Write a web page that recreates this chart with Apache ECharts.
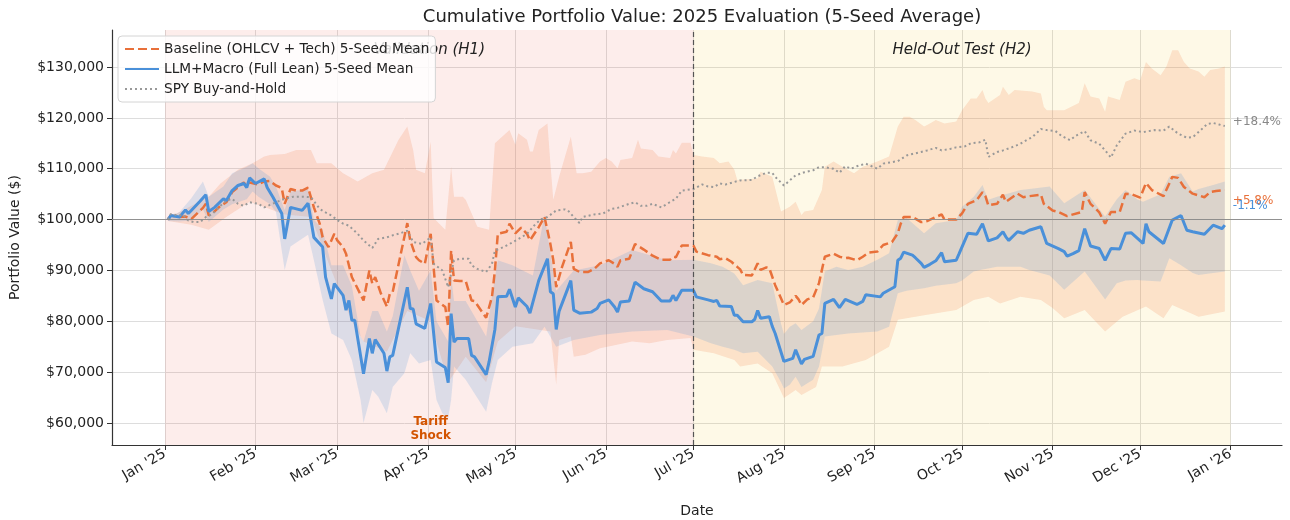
<!DOCTYPE html>
<html>
<head>
<meta charset="utf-8">
<script src="https://cdn.jsdelivr.net/npm/echarts@6/dist/echarts.min.js"></script>
<style>
  html, body { margin: 0; background: #fff; }
  #chart { width: 1290px; height: 520px; }
</style>
</head>
<body>
<div id="chart"></div>
<script>
// values in $ thousands

// Baseline (OHLCV + Tech) 5-seed mean
const baseDates = ['2025-01-02','2025-01-03','2025-01-06','2025-01-08','2025-01-10','2025-01-14','2025-01-15','2025-01-16','2025-01-17','2025-01-20','2025-01-22','2025-01-24','2025-01-28','2025-01-29','2025-01-30','2025-02-02','2025-02-04','2025-02-06','2025-02-08','2025-02-10','2025-02-11','2025-02-13','2025-02-15','2025-02-17','2025-02-19','2025-02-21','2025-02-23','2025-02-24','2025-02-26','2025-02-28','2025-03-01','2025-03-03','2025-03-04','2025-03-06','2025-03-10','2025-03-12','2025-03-13','2025-03-14','2025-03-16','2025-03-18','2025-03-19','2025-03-20','2025-03-25','2025-03-26','2025-03-28','2025-03-29','2025-03-31','2025-04-02','2025-04-04','2025-04-07','2025-04-08','2025-04-09','2025-04-10','2025-04-12','2025-04-14','2025-04-16','2025-04-17','2025-04-21','2025-04-23','2025-04-24','2025-04-25','2025-04-28','2025-04-29','2025-05-01','2025-05-03','2025-05-05','2025-05-06','2025-05-09','2025-05-11','2025-05-13','2025-05-14','2025-05-15','2025-05-17','2025-05-20','2025-05-21','2025-05-23','2025-05-26','2025-05-28','2025-05-30','2025-06-02','2025-06-04','2025-06-05','2025-06-06','2025-06-09','2025-06-11','2025-06-14','2025-06-17','2025-06-20','2025-06-23','2025-06-24','2025-06-25','2025-06-27','2025-07-01',
  '2025-07-02','2025-07-06','2025-07-09','2025-07-10','2025-07-12','2025-07-14','2025-07-16','2025-07-17','2025-07-18','2025-07-21','2025-07-23','2025-07-24','2025-07-26','2025-07-27','2025-07-29','2025-07-30','2025-08-01','2025-08-03','2025-08-05','2025-08-06','2025-08-07','2025-08-09','2025-08-11','2025-08-13','2025-08-15','2025-08-18','2025-08-20','2025-08-22','2025-08-23','2025-08-26','2025-08-28','2025-08-30','2025-09-02','2025-09-04','2025-09-07','2025-09-09','2025-09-10','2025-09-11','2025-09-14','2025-09-15','2025-09-17','2025-09-19','2025-09-22','2025-09-24','2025-09-25','2025-09-29','2025-10-01','2025-10-03','2025-10-06','2025-10-08','2025-10-09','2025-10-10','2025-10-13','2025-10-15','2025-10-16','2025-10-20','2025-10-22','2025-10-24','2025-10-28','2025-10-29','2025-11-01','2025-11-03','2025-11-06','2025-11-11','2025-11-12','2025-11-14','2025-11-16','2025-11-17','2025-11-19','2025-11-21','2025-11-24','2025-11-26','2025-11-28','2025-12-01','2025-12-03','2025-12-05','2025-12-09','2025-12-12','2025-12-14','2025-12-16','2025-12-19','2025-12-23','2025-12-25','2025-12-27','2025-12-30'];
const baseMean = [100.0,100.8,100.5,100.6,100.1,102.3,103.1,100.8,101.1,102.7,103.4,105.4,107.3,106.5,107.3,106.9,107.5,107.6,106.7,106.2,103.1,106.0,105.7,105.7,106.3,102.4,99.2,96.5,94.6,97.2,95.9,94.6,93.3,88.7,84.1,90.0,87.4,88.7,85.4,82.9,85.4,85.8,99.3,95.9,92.6,92.0,91.3,97.2,84.1,82.8,78.9,93.9,88.0,87.9,87.9,84.1,84.0,80.7,84.8,90.0,97.2,97.6,99.2,97.3,98.4,97.2,95.9,98.5,100.5,95.2,92.0,86.7,90.7,95.6,90.3,89.7,89.7,90.3,91.4,92.0,91.3,90.7,92.0,92.3,95.2,94.1,92.9,92.1,92.1,92.7,92.6,94.9,94.9,
  93.7,93.0,92.7,92.2,92.4,91.7,90.7,90.2,89.1,89.0,91.4,90.1,90.6,90.4,87.1,85.8,83.2,83.7,85.0,84.3,83.2,84.3,84.7,87.5,92.7,93.3,92.7,92.4,92.5,92.0,92.7,93.5,93.7,95.0,95.6,97.3,99.2,100.5,100.5,100.2,99.5,99.7,100.5,101.0,100.0,100.0,101.2,103.1,103.8,105.4,104.6,102.8,103.1,104.9,103.5,105.1,104.4,104.6,104.9,103.1,101.8,101.5,100.7,101.5,105.4,103.1,102.0,101.4,99.2,101.5,101.5,105.1,105.0,104.3,107.2,105.8,104.6,108.4,108.2,106.4,105.1,104.4,105.4,105.6,105.8];

// LLM+Macro (Full Lean) 5-seed mean
const llmDates = ['2025-01-02','2025-01-03','2025-01-06','2025-01-08','2025-01-09','2025-01-10','2025-01-13','2025-01-15','2025-01-16','2025-01-18','2025-01-21','2025-01-22','2025-01-24','2025-01-26','2025-01-28','2025-01-29','2025-01-30','2025-02-01','2025-02-04','2025-02-05','2025-02-07','2025-02-10','2025-02-11','2025-02-13','2025-02-17','2025-02-19','2025-02-21','2025-02-24','2025-02-25','2025-02-27','2025-02-28','2025-03-03','2025-03-04','2025-03-05','2025-03-06','2025-03-07','2025-03-10','2025-03-12','2025-03-13','2025-03-14','2025-03-17','2025-03-18','2025-03-19','2025-03-20','2025-03-25','2025-03-26','2025-03-27','2025-03-28','2025-03-31','2025-04-02','2025-04-04','2025-04-07','2025-04-08','2025-04-09','2025-04-10','2025-04-11','2025-04-15','2025-04-16','2025-04-17','2025-04-21','2025-04-22','2025-04-24','2025-04-25','2025-04-28','2025-04-29','2025-05-01','2025-05-02','2025-05-05','2025-05-06','2025-05-09','2025-05-12','2025-05-13','2025-05-14','2025-05-15','2025-05-16','2025-05-20','2025-05-21','2025-05-23','2025-05-27','2025-05-29','2025-05-30','2025-06-02','2025-06-04','2025-06-05','2025-06-06','2025-06-09','2025-06-11','2025-06-14','2025-06-17','2025-06-20','2025-06-23','2025-06-24','2025-06-25','2025-06-27','2025-07-01',
  '2025-07-02','2025-07-04','2025-07-06','2025-07-08','2025-07-09','2025-07-10','2025-07-14','2025-07-15','2025-07-16','2025-07-18','2025-07-21','2025-07-22','2025-07-23','2025-07-24','2025-07-27','2025-07-28','2025-07-29','2025-08-01','2025-08-04','2025-08-05','2025-08-07','2025-08-08','2025-08-11','2025-08-13','2025-08-14','2025-08-15','2025-08-18','2025-08-20','2025-08-22','2025-08-26','2025-08-28','2025-08-29','2025-09-03','2025-09-04','2025-09-08','2025-09-09','2025-09-10','2025-09-11','2025-09-14','2025-09-15','2025-09-17','2025-09-18','2025-09-20','2025-09-22','2025-09-24','2025-09-25','2025-09-29','2025-09-30','2025-10-03','2025-10-06','2025-10-08','2025-10-10','2025-10-13','2025-10-15','2025-10-16','2025-10-17','2025-10-20','2025-10-22','2025-10-24','2025-10-28','2025-10-30','2025-11-03','2025-11-05','2025-11-06','2025-11-08','2025-11-10','2025-11-12','2025-11-14','2025-11-17','2025-11-19','2025-11-21','2025-11-24','2025-11-26','2025-11-28','2025-12-02','2025-12-03','2025-12-04','2025-12-09','2025-12-12','2025-12-15','2025-12-17','2025-12-19','2025-12-23','2025-12-26','2025-12-29','2025-12-30'];
const llmMean = [100.0,100.8,100.5,101.9,101.2,101.8,103.6,104.9,101.6,102.4,104.1,103.7,105.7,106.7,107.1,106.3,108.2,107.1,108.0,106.3,104.4,101.2,96.2,102.4,101.8,103.2,96.5,94.6,88.7,84.4,87.4,85.1,82.2,84.1,80.2,80.2,69.7,76.6,73.7,76.4,73.7,70.2,73.0,73.3,86.7,82.5,82.4,79.5,78.6,83.5,72.0,70.9,67.9,81.5,75.9,76.6,76.6,73.3,73.0,69.5,72.0,78.4,84.8,84.9,86.3,82.8,84.6,82.9,81.6,88.0,92.3,85.8,85.4,78.4,82.0,88.0,82.2,81.6,81.8,82.5,83.5,84.2,82.8,81.8,83.8,84.0,87.7,86.4,85.8,84.0,84.0,85.1,84.1,86.1,86.1,
  84.8,84.5,84.2,83.9,84.1,83.0,82.9,81.2,81.2,79.9,79.9,80.4,82.1,80.6,80.9,79.0,77.6,72.1,72.7,74.4,71.6,72.5,73.1,77.3,77.6,83.5,84.3,82.7,84.3,83.3,83.9,85.2,84.8,85.5,86.8,92.0,92.4,93.6,93.0,92.5,91.4,90.6,91.2,91.9,93.5,91.7,92.0,93.3,97.3,97.1,99.2,95.8,96.4,97.6,96.6,95.9,97.6,97.3,97.9,98.6,95.3,94.3,93.7,92.8,93.3,93.9,98.2,94.8,94.3,92.0,94.3,94.2,97.3,97.4,95.3,99.2,97.6,95.3,99.9,100.8,97.9,97.6,97.1,98.9,98.2,98.9];

// SPY buy-and-hold
const spyDates = ['2025-01-02','2025-01-03','2025-01-06','2025-01-07','2025-01-09','2025-01-11','2025-01-13','2025-01-15','2025-01-17','2025-01-20','2025-01-22','2025-01-24','2025-01-26','2025-01-28','2025-01-30','2025-02-02','2025-02-04','2025-02-06','2025-02-08','2025-02-11','2025-02-14','2025-02-17','2025-02-20','2025-02-23','2025-02-25','2025-02-27','2025-03-02','2025-03-03','2025-03-05','2025-03-08','2025-03-10','2025-03-13','2025-03-15','2025-03-18','2025-03-20','2025-03-22','2025-03-25','2025-03-27','2025-03-30','2025-04-02','2025-04-03','2025-04-06','2025-04-08','2025-04-10','2025-04-12','2025-04-15','2025-04-16','2025-04-18','2025-04-21','2025-04-23','2025-04-24','2025-04-27','2025-04-29','2025-05-03','2025-05-05','2025-05-08','2025-05-10','2025-05-12','2025-05-15','2025-05-18','2025-05-19','2025-05-21','2025-05-23','2025-05-24','2025-05-28','2025-05-31','2025-06-03','2025-06-05','2025-06-09','2025-06-11','2025-06-13','2025-06-15','2025-06-17','2025-06-20','2025-06-22','2025-06-25','2025-06-27','2025-07-01',
  '2025-07-04','2025-07-06','2025-07-08','2025-07-10','2025-07-12','2025-07-15','2025-07-17','2025-07-21','2025-07-23','2025-07-26','2025-07-28','2025-07-29','2025-08-01','2025-08-03','2025-08-05','2025-08-08','2025-08-11','2025-08-13','2025-08-15','2025-08-18','2025-08-20','2025-08-22','2025-08-24','2025-08-26','2025-08-29','2025-09-02','2025-09-04','2025-09-07','2025-09-09','2025-09-12','2025-09-14','2025-09-17','2025-09-19','2025-09-22','2025-09-24','2025-09-27','2025-09-29','2025-10-02','2025-10-04','2025-10-07','2025-10-09','2025-10-10','2025-10-13','2025-10-15','2025-10-18','2025-10-21','2025-10-23','2025-10-25','2025-10-28','2025-10-30','2025-11-02','2025-11-04','2025-11-07','2025-11-09','2025-11-12','2025-11-14','2025-11-17','2025-11-19','2025-11-21','2025-11-23','2025-11-26','2025-11-29','2025-12-02','2025-12-06','2025-12-09','2025-12-11','2025-12-14','2025-12-17','2025-12-19','2025-12-21','2025-12-24','2025-12-26','2025-12-28','2025-12-30'];
const spyVals = [100.0,101.1,100.8,101.0,99.8,99.5,99.5,100.5,101.0,102.7,103.7,104.1,103.1,102.7,103.4,103.1,102.4,102.9,103.4,104.1,104.5,104.5,104.4,102.1,101.4,100.8,99.5,99.2,98.8,97.2,95.9,94.4,96.2,96.5,96.9,97.2,97.8,95.6,95.2,96.5,91.3,90.0,86.7,92.0,92.3,92.3,91.0,90.3,89.7,91.3,93.9,94.6,95.2,96.5,97.2,99.2,100.1,100.5,101.8,102.0,101.8,100.5,99.3,100.5,101.0,101.2,102.1,102.3,103.1,103.4,102.7,102.7,103.1,102.4,103.1,104.1,105.7,106.0,
  106.9,106.5,106.4,107.1,106.9,107.4,107.7,107.8,108.5,109.2,109.2,108.4,106.7,107.7,108.7,109.3,109.7,110.3,110.3,110.0,109.2,110.5,110.0,110.5,111.0,110.0,111.0,111.3,111.5,112.6,112.9,113.3,113.6,114.1,113.6,113.9,114.2,114.4,115.0,115.2,115.7,112.3,113.3,113.6,114.2,114.9,115.6,116.2,117.8,117.6,117.4,116.5,115.6,116.5,117.4,115.6,114.9,113.6,112.2,114.6,116.9,117.5,117.2,117.6,117.5,118.3,116.9,116.1,116.2,117.2,118.8,119.0,118.7,118.4];

// seed spread, baseline (upper and lower edges)
const baseHiDates = ['2025-01-02','2025-01-16','2025-01-20','2025-01-26','2025-01-31','2025-02-04','2025-02-06','2025-02-11','2025-02-15','2025-02-20','2025-02-22','2025-02-27','2025-03-03','2025-03-08','2025-03-13','2025-03-17','2025-03-22','2025-03-25','2025-03-27','2025-03-28','2025-03-31','2025-04-02','2025-04-03','2025-04-07','2025-04-09','2025-04-10','2025-04-13','2025-04-14','2025-04-18','2025-04-22','2025-04-24','2025-04-29','2025-05-01','2025-05-02','2025-05-05','2025-05-06','2025-05-07','2025-05-09','2025-05-12','2025-05-13','2025-05-14','2025-05-16','2025-05-20','2025-05-22','2025-05-24','2025-05-27','2025-05-30','2025-06-01','2025-06-03','2025-06-05','2025-06-06','2025-06-10','2025-06-12','2025-06-13','2025-06-17','2025-06-19','2025-06-23','2025-06-24','2025-06-25','2025-06-27','2025-06-30',
  '2025-07-01','2025-07-04','2025-07-08','2025-07-10','2025-07-13','2025-07-15','2025-07-16','2025-07-23','2025-07-24','2025-07-28','2025-07-31','2025-08-03','2025-08-05','2025-08-07','2025-08-08','2025-08-11','2025-08-14','2025-08-15','2025-08-18','2025-08-21','2025-08-25','2025-08-28','2025-09-02','2025-09-06','2025-09-09','2025-09-11','2025-09-13','2025-09-15','2025-09-18','2025-09-20','2025-09-22','2025-09-25','2025-09-29','2025-10-01','2025-10-04','2025-10-06','2025-10-08','2025-10-09','2025-10-10','2025-10-14','2025-10-15','2025-10-17','2025-10-19','2025-10-25','2025-10-28','2025-10-29','2025-10-30','2025-11-05','2025-11-10','2025-11-12','2025-11-14','2025-11-17','2025-11-19','2025-11-20','2025-11-24','2025-11-26','2025-11-29','2025-12-01','2025-12-03','2025-12-05','2025-12-08','2025-12-10','2025-12-12','2025-12-14','2025-12-16','2025-12-18','2025-12-21','2025-12-23','2025-12-25','2025-12-28','2025-12-30'];
const baseHi = [100.3,104.5,107.1,109.8,111.1,112.4,112.7,112.9,113.7,113.7,111.1,111.1,109.1,107.5,109.1,109.8,115.7,118.3,113.7,109.8,109.1,115.3,100.3,98.0,110.4,104.5,104.5,103.9,98.6,98.0,115.0,117.6,114.7,117.0,115.7,113.4,113.4,117.6,118.9,111.1,103.9,108.4,116.3,109.1,109.1,109.4,111.4,112.1,111.4,110.1,111.7,112.1,115.7,114.0,113.7,112.4,112.1,113.7,113.0,115.1,115.1,
  112.7,112.4,112.1,111.1,111.4,109.8,107.8,108.1,109.4,108.4,101.6,102.5,103.5,100.9,101.6,101.9,105.8,110.4,111.4,110.4,109.1,110.4,111.4,112.4,118.3,120.2,120.2,119.6,118.3,118.9,119.6,118.9,119.3,121.5,123.8,123.8,125.5,123.8,122.9,124.5,126.1,124.5,125.5,125.2,124.8,122.2,121.5,121.5,122.9,126.8,124.2,123.8,121.2,124.2,123.5,127.1,127.8,127.4,131.0,129.7,128.4,130.1,133.3,133.3,131.0,129.7,129.1,128.1,129.4,129.7,130.1];
const baseLoDates = ['2025-01-02','2025-01-10','2025-01-16','2025-01-22','2025-01-30','2025-02-11','2025-02-20','2025-02-27','2025-03-06','2025-03-10','2025-03-18','2025-03-25','2025-04-02','2025-04-08','2025-04-14','2025-04-21','2025-04-25','2025-05-01','2025-05-13','2025-05-15','2025-05-16','2025-05-20','2025-05-21','2025-05-25','2025-05-30','2025-06-04','2025-06-10','2025-06-16','2025-06-22','2025-06-30',
  '2025-07-01','2025-07-08','2025-07-15','2025-07-17','2025-07-23','2025-07-28','2025-08-01','2025-08-05','2025-08-07','2025-08-12','2025-08-14','2025-08-21','2025-08-29','2025-09-06','2025-09-09','2025-09-18','2025-09-29','2025-10-05','2025-10-10','2025-10-14','2025-10-21','2025-10-28','2025-11-01','2025-11-05','2025-11-12','2025-11-19','2025-11-25','2025-12-03','2025-12-09','2025-12-12','2025-12-21','2025-12-30'];
const baseLo = [99.7,99.0,98.0,100.5,103.5,101.0,100.5,90.0,80.0,76.0,74.0,82.0,80.0,68.0,73.0,68.0,76.0,79.0,78.0,67.5,76.3,77.0,73.0,73.4,74.7,75.3,76.0,75.7,76.3,76.7,
  74.4,73.7,72.4,71.1,71.7,69.8,64.9,66.5,65.5,67.1,71.1,71.1,72.4,75.0,80.3,81.2,82.2,84.2,84.8,83.5,84.8,84.2,82.6,80.6,82.2,78.0,80.9,82.9,80.6,83.2,80.9,81.9];

// seed spread, LLM+Macro
const llmBandDates = ['2025-01-02','2025-01-06','2025-01-10','2025-01-14','2025-01-16','2025-01-21','2025-01-24','2025-01-29','2025-01-31','2025-02-02','2025-02-06','2025-02-08','2025-02-11','2025-02-13','2025-02-19','2025-02-21','2025-02-24','2025-02-27','2025-03-03','2025-03-06','2025-03-09','2025-03-10','2025-03-13','2025-03-15','2025-03-18','2025-03-20','2025-03-24','2025-03-26','2025-03-29','2025-04-02','2025-04-04','2025-04-06','2025-04-08','2025-04-09','2025-04-10','2025-04-14','2025-04-21','2025-04-23','2025-04-25','2025-04-30','2025-05-07','2025-05-11','2025-05-15','2025-05-21','2025-05-30','2025-06-10','2025-06-22','2025-07-01',
  '2025-07-07','2025-07-11','2025-07-15','2025-07-18','2025-07-23','2025-07-28','2025-07-31','2025-08-01','2025-08-03','2025-08-05','2025-08-07','2025-08-11','2025-08-13','2025-08-15','2025-08-19','2025-08-23','2025-08-28','2025-09-02','2025-09-06','2025-09-09','2025-09-12','2025-09-18','2025-09-22','2025-09-29','2025-10-01','2025-10-05','2025-10-08','2025-10-10','2025-10-13','2025-10-21','2025-10-24','2025-10-31','2025-11-05','2025-11-12','2025-11-19','2025-11-23','2025-11-26','2025-11-30','2025-12-02','2025-12-08','2025-12-11','2025-12-15','2025-12-19','2025-12-21','2025-12-26','2025-12-30'];
const llmLo = [99.7,99.6,99.8,102.0,99.5,102.0,103.0,104.0,105.5,104.5,103.0,101.5,90.1,94.7,97.0,92.0,84.2,77.6,76.3,72.4,64.5,60.0,66.5,65.2,61.9,67.1,69.8,73.7,71.7,72.4,64.5,61.9,61.0,64.5,71.1,68.5,62.2,67.8,72.4,75.0,75.7,78.9,75.0,76.3,77.3,78.0,78.3,77.0,
  75.7,75.0,74.4,73.7,74.0,71.1,68.0,66.8,67.5,69.1,67.1,68.5,71.1,77.0,77.3,77.6,77.8,78.0,78.9,85.5,86.0,86.5,87.0,87.5,88.0,89.8,90.2,90.4,90.7,90.7,90.1,89.0,86.2,89.8,84.3,87.5,88.0,88.1,88.0,87.8,92.4,91.0,89.5,89.1,89.5,89.8];
const llmHi = [100.3,101.5,104.2,107.5,104.5,106.5,109.1,110.4,111.1,110.1,108.4,106.5,101.9,105.5,106.0,100.0,98.0,91.0,91.0,87.0,77.0,76.0,82.0,82.0,78.0,81.0,93.0,90.0,86.0,90.0,80.0,78.0,76.0,89.0,84.0,84.0,77.0,85.0,92.0,91.0,89.0,101.0,86.0,90.0,91.0,94.0,92.0,92.1,
  91.4,90.7,89.4,87.1,88.1,87.5,79.5,77.5,78.9,79.6,78.3,80.0,82.5,89.8,90.7,90.1,90.7,92.1,93.4,99.9,100.3,97.3,99.3,99.9,102.5,104.5,106.8,103.9,104.5,105.8,106.0,106.5,103.2,105.8,100.6,104.0,105.8,104.0,103.5,105.0,108.4,109.1,105.5,106.0,106.8,107.5];

// axes
const monthTicks = ['2025-01-01','2025-02-01','2025-03-01','2025-04-01','2025-05-01','2025-06-01','2025-07-01','2025-08-01','2025-09-01','2025-10-01','2025-11-01','2025-12-01','2026-01-01'];
const monthLabels = ["Jan '25","Feb '25","Mar '25","Apr '25","May '25","Jun '25","Jul '25","Aug '25","Sep '25","Oct '25","Nov '25","Dec '25","Jan '26"];
const valueTicks = [60, 70, 80, 90, 100, 110, 120, 130];

const t = s => new Date(s.length === 10 ? s + 'T00:00:00' : s).getTime();
const pairs = (dates, vals) => dates.map((d, i) => [t(d), vals[i]]);
const tickTimes = monthTicks.map(t);

const ORANGE = '#E8703A';
const BLUE = '#4A90D9';
const GREY = '#999999';

function band(name, hiDates, hi, loDates, lo, fill) {
  const pts = pairs(hiDates, hi).concat(pairs(loDates, lo).reverse());
  return {
    name, type: 'custom', z: 2, silent: true,
    data: [[t('2025-07-01'), 100]],
    renderItem: (params, api) => ({
      type: 'polygon',
      shape: { points: pts.map(p => api.coord(p)) },
      style: { fill }
    })
  };
}

const chart = echarts.init(document.getElementById('chart'));

chart.setOption({
  animation: false,
  textStyle: { fontFamily: 'DejaVu Sans' },
  title: {
    text: 'Cumulative Portfolio Value: 2025 Evaluation (5-Seed Average)',
    left: 697, top: 3, textAlign: 'center',
    textStyle: { fontSize: 18, fontWeight: 'normal', color: '#222', fontFamily: 'DejaVu Sans' }
  },
  legend: {
    data: ['Baseline (OHLCV + Tech) 5-Seed Mean', 'LLM+Macro (Full Lean) 5-Seed Mean', 'SPY Buy-and-Hold'],
    orient: 'vertical', left: 118, top: 36, z: 10,
    itemWidth: 34, itemHeight: 12, itemGap: 6,
    padding: [6, 6, 6, 6],
    itemStyle: { opacity: 0 },
    backgroundColor: 'rgba(255,255,255,0.82)', borderColor: '#d4d4d4', borderWidth: 1, borderRadius: 4,
    textStyle: { fontSize: 13.7, color: '#222' }
  },
  grid: { left: 112, right: 8, top: 30, bottom: 75, outerBoundsMode: 'none' },
  xAxis: {
    type: 'value',
    min: t('2024-12-13T20:30:00'), max: t('2026-01-18T14:00:00'),
    name: 'Date', nameLocation: 'middle', nameGap: 59,
    nameTextStyle: { fontSize: 14, color: '#222' },
    axisLine: { lineStyle: { color: '#333', width: 1.2 } },
    axisTick: { length: 5, lineStyle: { color: '#333' }, customValues: tickTimes },
    axisLabel: {
      customValues: tickTimes, rotate: 30, margin: 8, fontSize: 14, color: '#222',
      formatter: v => monthLabels[tickTimes.indexOf(v)] || ''
    },
    splitLine: { show: true, lineStyle: { color: '#dddddd', width: 1 } }
  },
  yAxis: {
    type: 'value', min: 55.67, max: 137.28,
    name: 'Portfolio Value ($)', nameLocation: 'middle', nameGap: 90,
    nameTextStyle: { fontSize: 14, color: '#222' },
    axisLine: { show: true, lineStyle: { color: '#333', width: 1.2 } },
    axisTick: { show: true, length: 5, lineStyle: { color: '#333' }, customValues: valueTicks },
    axisLabel: {
      customValues: valueTicks, fontSize: 14, color: '#222', margin: 8,
      formatter: v => '$' + Math.round(v * 1000).toLocaleString('en-US')
    },
    splitLine: { show: true, lineStyle: { color: '#dddddd', width: 1 } }
  },
  series: [
    {
      name: 'spans', type: 'line', z: 1, data: [], silent: true,
      markArea: {
        silent: true,
        label: { show: true, position: 'insideTop', distance: 13, fontSize: 15, fontStyle: 'italic', color: '#222' },
        data: [
          [{ name: 'Validation (H1)', xAxis: t('2025-01-01'), itemStyle: { color: 'rgba(231,76,60,0.10)' } }, { xAxis: t('2025-07-01') }],
          [{ name: 'Held-Out Test (H2)', xAxis: t('2025-07-01'), itemStyle: { color: 'rgba(241,196,15,0.10)' } }, { xAxis: t('2026-01-01') }]
        ]
      }
    },
    band('baseline band', baseHiDates, baseHi, baseLoDates, baseLo, 'rgba(240,128,80,0.20)'),
    band('llm band', llmBandDates, llmHi, llmBandDates, llmLo, 'rgba(74,144,217,0.18)'),
    {
      name: 'refs', type: 'line', z: 3, data: [], silent: true,
      markLine: {
        silent: true, symbol: 'none', label: { show: false },
        data: [
          { yAxis: 100, lineStyle: { color: '#888', width: 1, type: 'solid', opacity: 0.9 } },
          { xAxis: t('2025-07-01'), lineStyle: { color: '#555', width: 1.2, type: [5, 3] } }
        ]
      },
      markPoint: {
        silent: true,
        data: [{
          coord: [t('2025-04-02'), 58.8], symbol: 'rect', symbolSize: 1, itemStyle: { color: 'transparent' },
          label: { show: true, position: 'inside', formatter: 'Tariff\nShock', fontSize: 12, fontWeight: 'bold', color: '#D35400', lineHeight: 14 }
        }]
      }
    },
    {
      name: 'Baseline (OHLCV + Tech) 5-Seed Mean', type: 'line', z: 4,
      data: pairs(baseDates, baseMean), symbol: 'none', color: ORANGE,
      lineStyle: { color: ORANGE, width: 2.5, type: [9, 4] },
      endLabel: { show: true, formatter: '+5.8%', color: ORANGE, fontSize: 12, offset: [0, 11] }
    },
    {
      name: 'LLM+Macro (Full Lean) 5-Seed Mean', type: 'line', z: 4,
      data: pairs(llmDates, llmMean), symbol: 'none', color: BLUE,
      lineStyle: { color: BLUE, width: 3 },
      endLabel: { show: true, formatter: '-1.1%', color: BLUE, fontSize: 12, offset: [0, -19] }
    },
    {
      name: 'SPY Buy-and-Hold', type: 'line', z: 4,
      data: pairs(spyDates, spyVals), symbol: 'none', color: GREY,
      lineStyle: { color: GREY, width: 2, type: [2, 3] },
      endLabel: { show: true, formatter: '+18.4%', color: '#888', fontSize: 12, offset: [0, -4] }
    }
  ]
});

window.addEventListener('resize', () => chart.resize());
</script>
</body>
</html>
